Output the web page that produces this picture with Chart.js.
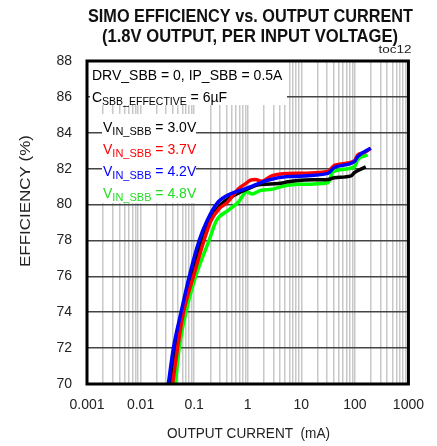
<!DOCTYPE html>
<html>
<head>
<meta charset="utf-8">
<script src="https://cdn.jsdelivr.net/npm/chart.js@4.4.1/dist/chart.umd.min.js"></script>
<style>
  html, body { margin: 0; padding: 0; background: #fff; }
</style>
</head>
<body>
<canvas id="chart" width="437" height="446"></canvas>
<script>
const FONT = '"Liberation Sans", Arial, sans-serif';
const NARROW = '"Liberation Sans Narrow", "Arial Narrow", "Liberation Sans", sans-serif';

// decade ticks on the x axis, labels as printed
const X_TICKS = [0.001, 0.01, 0.1, 1, 10, 100, 1000];
const X_LABELS = ['0.001', '0.01', '0.1', '1', '10', '100', '1000'];
const Y_MIN = 70;
const Y_MAX = 88;
const Y_STEP = 2;

// VIN_SBB = 3.0V (black)
const current30 = [0.036, 0.0445, 0.06, 0.088, 0.135, 0.19, 0.316, 0.634, 1.04, 1.6, 3.75, 5.7, 11.7, 31.6, 42, 85, 98, 160];
const eff30 = [70, 72, 74, 76, 78, 79.1, 80.0, 80.6, 80.9, 81.1, 81.17, 81.27, 81.37, 81.4, 81.5, 81.6, 81.78, 82.1];

// VIN_SBB = 3.7V (red)
const current37 = [0.0396, 0.049, 0.0634, 0.097, 0.153, 0.206, 0.3, 0.41, 0.68, 0.9, 1.1, 1.4, 1.8, 2.8, 5.7, 31.6, 42, 98, 113, 151, 199];
const eff37 = [70, 72, 74, 76, 78, 79.1, 79.8, 80.1, 80.9, 81.15, 81.35, 81.4, 81.3, 81.6, 81.73, 81.85, 82.2, 82.44, 82.76, 82.9, 83.14];

// VIN_SBB = 4.2V (blue)
const current42 = [0.033, 0.041, 0.057, 0.081, 0.124, 0.174, 0.267, 0.48, 0.84, 1.04, 2.45, 5.7, 31.6, 42, 98, 113, 197];
const eff42 = [70, 72, 74, 76, 78, 79.1, 80.07, 80.6, 80.85, 80.95, 81.37, 81.56, 81.74, 82.08, 82.39, 82.67, 83.14];

// VIN_SBB = 4.8V (green)
const current48 = [0.0445, 0.0527, 0.0702, 0.107, 0.19, 0.26, 0.445, 0.68, 0.96, 1.2, 1.78, 2.8, 4.26, 8.8, 31.6, 39, 98, 113, 174];
const eff48 = [70, 72, 74, 76, 78, 79.1, 79.7, 80.16, 80.72, 80.59, 80.8, 80.85, 81.0, 81.13, 81.22, 81.82, 82.1, 82.5, 82.76];

function toPoints(xs, ys) {
    return xs.map((x, i) => ({ x: x, y: ys[i] }));
}

// every 1..9 x 10^k between the decades, for the log grid
function logGridTicks() {
    const out = [];
    for (let e = -3; e < 3; e++) {
        for (let k = 1; k < 10; k++) out.push({ value: k * Math.pow(10, e) });
    }
    out.push({ value: 1000 });
    return out;
}

// draws text squeezed / stretched to a given width
function fillFit(ctx, text, cx, y, width) {
    const w = ctx.measureText(text).width;
    ctx.save();
    ctx.translate(cx, y);
    ctx.scale(width / w, 1);
    ctx.textAlign = 'center';
    ctx.fillText(text, 0, 0);
    ctx.restore();
}

function drawRuns(ctx, x, y, runs, color) {
    ctx.fillStyle = color;
    ctx.textAlign = 'left';
    ctx.textBaseline = 'alphabetic';
    runs.forEach(r => {
        ctx.font = r.size + 'px ' + FONT;
        ctx.fillText(r.text, x, y + (r.dy || 0));
        x += ctx.measureText(r.text).width;
    });
}

const decorations = {
    id: 'decorations',
    afterDraw(chart) {
        const ctx = chart.ctx;
        const a = chart.chartArea;
        ctx.save();

        // white boxes behind the annotation text
        ctx.fillStyle = '#fff';
        ctx.fillRect(90, 62, 197, 43);
        ctx.fillRect(102, 114, 94, 89);

        drawRuns(ctx, 92, 80, [{ text: 'DRV_SBB = 0, IP_SBB = 0.5A', size: 14 }], '#000');
        drawRuns(ctx, 92, 101.5, [
            { text: 'C', size: 14 },
            { text: 'SBB_EFFECTIVE', size: 10.5, dy: 3.5 },
            { text: ' = 6µF', size: 14 }
        ], '#000');

        const vin = [['3.0V', '#000'], ['3.7V', '#ff0000'], ['4.2V', '#0000ff'], ['4.8V', '#22dd22']];
        vin.forEach((v, i) => {
            drawRuns(ctx, 103, 131.5 + i * 22, [
                { text: 'V', size: 14 },
                { text: 'IN_SBB', size: 11, dy: 3.5 },
                { text: ' = ' + v[0], size: 14 }
            ], v[1]);
        });

        // plot frame
        ctx.strokeStyle = '#000';
        ctx.lineWidth = 3;
        ctx.strokeRect(a.left, a.top, a.right - a.left, a.bottom - a.top);

        // titles
        ctx.fillStyle = '#111';
        ctx.textBaseline = 'alphabetic';
        ctx.font = 'bold 19px ' + NARROW;
        fillFit(ctx, 'SIMO EFFICIENCY vs. OUTPUT CURRENT', 250.5, 21.5, 325);
        fillFit(ctx, '(1.8V OUTPUT, PER INPUT VOLTAGE)', 250, 41.5, 296);

        ctx.font = '11px ' + FONT;
        ctx.fillStyle = '#222';
        fillFit(ctx, 'toc12', 395, 53, 33);

        ctx.font = '14px ' + FONT;
        fillFit(ctx, 'OUTPUT CURRENT  (mA)', 248.5, 438, 163);

        ctx.save();
        ctx.translate(30, 201);
        ctx.rotate(-Math.PI / 2);
        ctx.font = '15.5px ' + FONT;
        fillFit(ctx, 'EFFICIENCY (%)', 0, 0, 132);
        ctx.restore();

        ctx.restore();
    }
};

function series(xs, ys, color) {
    return {
        data: toPoints(xs, ys),
        borderColor: color,
        borderWidth: 3.5,
        pointRadius: 0,
        fill: false,
        cubicInterpolationMode: 'monotone',
        clip: 0
    };
}

const ctx = document.getElementById('chart').getContext('2d');
const chart = new Chart(ctx, {
    type: 'line',
    data: {
        datasets: [
            series(current42, eff42, '#0000ff'),
            series(current37, eff37, '#ff0000'),
            series(current30, eff30, '#000000'),
            series(current48, eff48, '#00ff00')
        ]
    },
    options: {
        responsive: false,
        animation: false,
        layout: { padding: { left: 0, top: 61, right: 26, bottom: 0 } },
        plugins: {
            legend: { display: false },
            tooltip: { enabled: false }
        },
        scales: {
            x: {
                type: 'logarithmic',
                min: 0.001,
                max: 1000,
                afterBuildTicks: s => { s.ticks = logGridTicks(); },
                afterFit: s => { s.height = 62; },
                ticks: {
                    autoSkip: false,
                    maxRotation: 0,
                    padding: 13,
                    color: '#222',
                    font: { family: FONT, size: 14 },
                    callback: v => {
                        const i = X_TICKS.findIndex(t => Math.abs(t - v) / t < 1e-6);
                        return i >= 0 ? X_LABELS[i] : '';
                    }
                },
                grid: { color: '#c8c8c8', lineWidth: 1.5, drawTicks: false },
                border: { display: false }
            },
            y: {
                min: Y_MIN,
                max: Y_MAX,
                afterFit: s => { s.width = 87; },
                ticks: {
                    stepSize: Y_STEP,
                    padding: 15,
                    color: '#222',
                    font: { family: FONT, size: 14 }
                },
                grid: { color: '#444', lineWidth: 1.5, drawTicks: false },
                border: { display: false }
            }
        }
    },
    plugins: [decorations]
});
</script>
</body>
</html>
